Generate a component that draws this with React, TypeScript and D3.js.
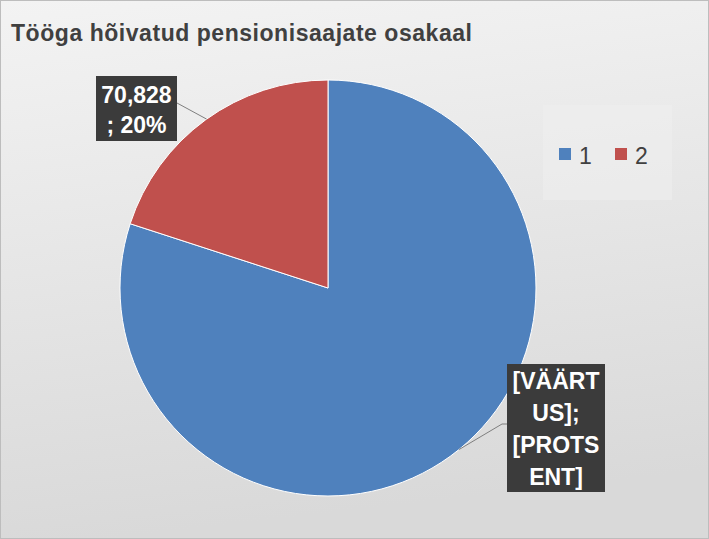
import React from "react";
import * as d3 from "d3";

const title = "Tööga hõivatud pensionisaajate osakaal";
const categories = ["1", "2"];
const values = [283312, 70828];
const colors = ["#4f81bd", "#c0504d"];
const labelLines = [["[VÄÄRT", "US];", "[PROTS", "ENT]"], ["70,828", "; 20%"]];

const W = 709, H = 539;
const cx = 328, cy = 288, R = 208;

export default function App() {
  const pie = d3.pie<number>().sort(null).startAngle(0).endAngle(2 * Math.PI);
  const arcs = pie(values);
  const arcGen = d3.arc<d3.PieArcDatum<number>>().innerRadius(0).outerRadius(R);

  const boxes = [
    { x: 507, y: 364, w: 98, h: 128, anchorY: 424, side: "left", first: 25, lh: 32, leaderAngle: 2.46 },
    { x: 96, y: 76, w: 81, h: 65, anchorY: 103, side: "right", first: 27, lh: 30, leaderAngle: 5.66 },
  ];

  return (
    <svg width={W} height={H} style={{ position: "absolute", left: 0, top: 0 }} fontFamily="'Liberation Sans', Arial, sans-serif">
      <defs>
        <linearGradient id="bg" x1="0" y1="0" x2="0.15" y2="1">
          <stop offset="0" stopColor="#f3f3f3" />
          <stop offset="1" stopColor="#d9d9d9" />
        </linearGradient>
      </defs>
      <rect x={0.5} y={0.5} width={W - 1} height={H - 1} fill="url(#bg)" stroke="#bdbdbd" />
      <text x={11} y={41} fontSize={23} fontWeight="bold" fill="#404040" textLength={461} lengthAdjust="spacing">{title}</text>
      <g transform={`translate(${cx},${cy})`}>
        {arcs.map((a, i) => (
          <path key={i} d={arcGen(a) || ""} fill={colors[i]} stroke="#ffffff" strokeWidth={1} />
        ))}
      </g>
      {arcs.map((a, i) => {
        const b = boxes[i];
        const px = cx + R * Math.sin(b.leaderAngle);
        const py = cy - R * Math.cos(b.leaderAngle);
        const bx = b.side === "left" ? b.x : b.x + b.w;
        const elbowX = b.side === "left" ? b.x - 5 : b.x + b.w;
        return (
          <g key={"l" + i}>
            <polyline points={`${bx},${b.anchorY} ${elbowX},${b.anchorY} ${px},${py}`} fill="none" stroke="#7f7f7f" strokeWidth={1} />
            <rect x={b.x} y={b.y} width={b.w} height={b.h} fill="#3b3b3b" />
            {labelLines[i].map((t, j) => (
              <text key={j} x={b.x + b.w / 2} y={b.y + b.first + j * b.lh} textAnchor="middle" fontSize={23} fontWeight="bold" fill="#ffffff">{t}</text>
            ))}
          </g>
        );
      })}
      <rect x={543} y={105} width={129} height={95} fill="#f0f0f0" opacity={0.5} />
      {categories.map((c, i) => (
        <g key={c} transform={`translate(${559 + i * 56},148)`}>
          <rect x={0} y={0} width={12} height={12} fill={colors[i]} />
          <text x={20} y={16} fontSize={23} fill="#404040">{c}</text>
        </g>
      ))}
    </svg>
  );
}
